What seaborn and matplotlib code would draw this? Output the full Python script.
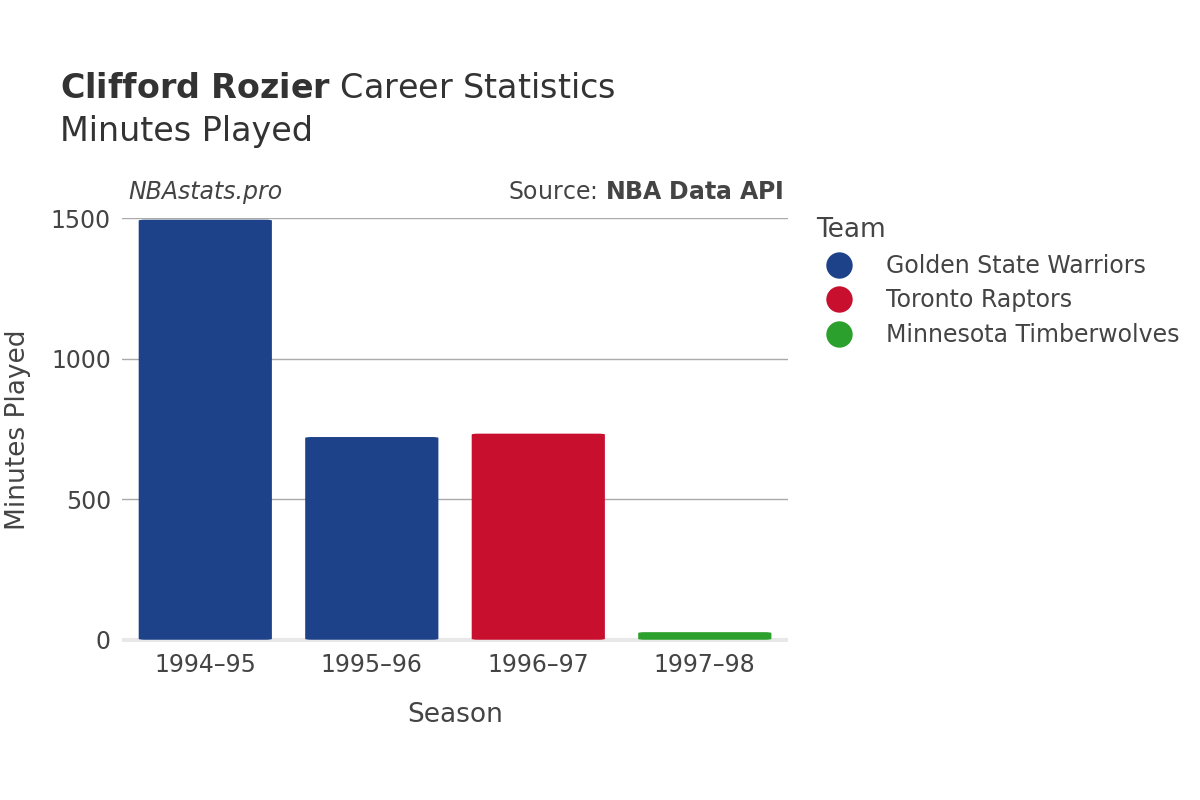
import matplotlib
matplotlib.use("Agg")
import matplotlib.pyplot as plt
import seaborn as sns
import pandas as pd
from matplotlib.patches import FancyBboxPatch
from matplotlib.lines import Line2D

seasons = ["1994–95", "1995–96", "1996–97", "1997–98"]
teams = ["Golden State Warriors", "Golden State Warriors", "Toronto Raptors", "Minnesota Timberwolves"]
minutes = [1494, 721, 733, 27]
team_names = ["Golden State Warriors", "Toronto Raptors", "Minnesota Timberwolves"]
team_colors = ["#1d428a", "#c8102e", "#2ca02c"]

df = pd.DataFrame({"Season": seasons, "Team": teams, "Minutes": minutes})
palette = dict(zip(team_names, team_colors))

fig = plt.figure(figsize=(12, 8), dpi=100)
ax = fig.add_axes([0.1017, 0.1975, 0.555, 0.53])
sns.barplot(data=df, x="Season", y="Minutes", hue="Team", palette=palette,
            dodge=False, width=0.8, legend=False, saturation=1, ax=ax)

for p in list(ax.patches):
    x, y, w, h = p.get_x(), p.get_y(), p.get_width(), p.get_height()
    if h <= 0:
        p.remove(); continue
    fc = p.get_facecolor()
    p.remove()
    ax.add_patch(FancyBboxPatch((x, y), w, h, boxstyle="round,pad=0,rounding_size=0.04",
                                mutation_aspect=80, fc=fc, ec="none", zorder=3))

ax.set_ylim(-8, 1500)
ax.set_xlim(-0.5, 3.5)
ax.set_yticks([0, 500, 1000, 1500])
ax.yaxis.grid(True, color="#aaaaaa", lw=1)
ax.set_axisbelow(True)
ax.axhline(0, color="#e8e8e8", lw=3, zorder=2)
for s in ax.spines.values():
    s.set_visible(False)
ax.tick_params(length=0, labelsize=17, colors="#444444", pad=8)
ax.set_xlabel("Season", fontsize=19, color="#444444", labelpad=18)
ax.set_ylabel("Minutes Played", fontsize=19, color="#444444", labelpad=14)

fig.text(0.05, 0.89, r"$\bf{Clifford\ Rozier}$ Career Statistics", fontsize=24, color="#333333", va="center")
fig.text(0.05, 0.835, "Minutes Played", fontsize=24, color="#333333", va="center")
fig.text(0.107, 0.76, "NBAstats.pro", fontsize=17, style="italic", color="#444444", va="center")
fig.text(0.653, 0.76, r"Source: $\bf{NBA\ Data\ API}$", fontsize=17, color="#444444", va="center", ha="right")

handles = [Line2D([0], [0], marker="o", color="none", markerfacecolor=c, markeredgecolor="none",
                  markersize=19) for c in team_colors]
leg = fig.legend(handles, team_names, loc="upper left", bbox_to_anchor=(0.662, 0.755),
                 frameon=False, fontsize=17, title="Team", title_fontsize=19,
                 labelspacing=0.45, handletextpad=1.0, labelcolor="#444444")
leg.get_title().set_color("#444444")
leg._legend_box.align = "left"

fig.savefig("out.png", dpi=100)
